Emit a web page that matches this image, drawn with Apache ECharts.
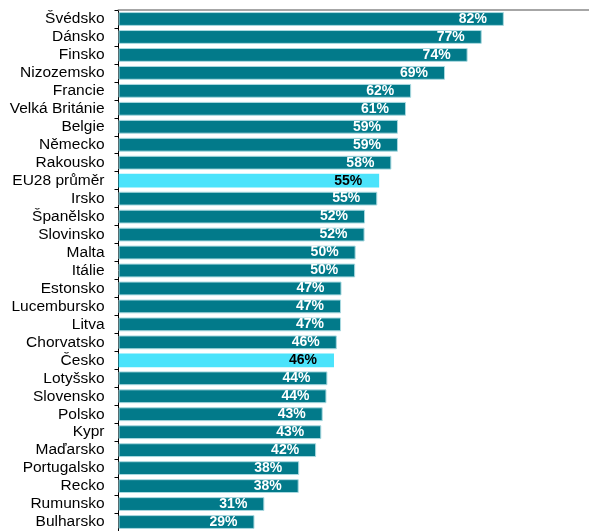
<!DOCTYPE html>
<html>
<head>
<meta charset="utf-8">
<script src="https://cdn.jsdelivr.net/npm/echarts@6/dist/echarts.min.js"></script>
<style>
  html, body { margin: 0; padding: 0; background: #fff; }
  #chart { width: 589px; height: 531px; }
</style>
</head>
<body>
<div id="chart"></div>
<script>
// kategorie shora dolu
const countries = [
  'Švédsko', 'Dánsko', 'Finsko', 'Nizozemsko', 'Francie', 'Velká Británie',
  'Belgie', 'Německo', 'Rakousko', 'EU28 průměr', 'Irsko', 'Španělsko',
  'Slovinsko', 'Malta', 'Itálie', 'Estonsko', 'Lucembursko', 'Litva',
  'Chorvatsko', 'Česko', 'Lotyšsko', 'Slovensko', 'Polsko', 'Kypr',
  'Maďarsko', 'Portugalsko', 'Recko', 'Rumunsko', 'Bulharsko'
]
const shares = [
  81.9, 77.2, 74.2, 69.4, 62.2, 61.1,
  59.4, 59.4, 58.0, 55.4, 55.0, 52.4,
  52.3, 50.4, 50.3, 47.4, 47.3, 47.3,
  46.4, 45.8, 44.4, 44.2, 43.4, 43.1,
  42.0, 38.4, 38.3, 31.0, 28.9
]
const highlighted = ['EU28 průměr', 'Česko']

const font = '"Liberation Sans", Arial, sans-serif'

const barData = countries.map((name, i) => {
  const hl = highlighted.includes(name)
  return {
    value: shares[i],
    itemStyle: hl
      ? { color: '#4be3fb', borderWidth: 0 }
      : { color: '#027a8a', borderColor: '#a9d9e0', borderWidth: 1 },
    label: { color: hl ? '#000' : '#fff' }
  }
})

const chart = echarts.init(document.getElementById('chart'))
chart.setOption({
  animation: false,
  grid: { left: 118.5, right: 0, top: 10, height: 524 },
  xAxis: {
    type: 'value',
    position: 'top',
    min: 0,
    max: 100,
    axisLine: { show: true, lineStyle: { color: '#a6a6a6', width: 2 } },
    axisTick: { show: false },
    axisLabel: { show: false },
    splitLine: { show: false }
  },
  yAxis: {
    type: 'category',
    inverse: true,
    data: countries,
    axisLine: { show: true, lineStyle: { color: '#000', width: 1 } },
    axisTick: { show: true, interval: 0, length: 4, lineStyle: { color: '#000' } },
    axisLabel: {
      interval: 0,
      color: '#000',
      fontFamily: font,
      fontSize: 15.5,
      margin: 14
    }
  },
  series: [{
    type: 'bar',
    data: barData,
    barCategoryGap: '23%',
    label: {
      show: true,
      position: 'insideRight',
      distance: 17,
      fontFamily: font,
      fontSize: 14,
      fontWeight: 'bold',
      formatter: p => Math.round(p.value) + '%'
    }
  }]
})
</script>
</body>
</html>
